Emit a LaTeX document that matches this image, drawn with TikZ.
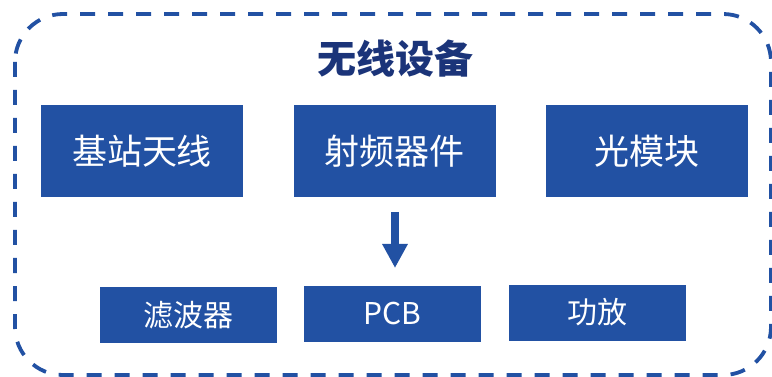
\documentclass[tikz,border=0pt]{standalone}
\usepackage{fontspec}
\setmainfont{Noto Sans CJK SC}
\usetikzlibrary{arrows.meta}
\definecolor{boxblue}{HTML}{2251A3}
\definecolor{titleblue}{HTML}{1B3479}
\tikzset{
  bigbox/.style={fill=boxblue, draw=none, minimum width=202pt, minimum height=92pt, inner sep=0pt, text=white, font=\fontsize{35}{40}\selectfont},
  smallbox/.style={fill=boxblue, draw=none, minimum width=177pt, minimum height=56pt, inner sep=0pt, text=white, font=\fontsize{30}{34}\selectfont},
  frame/.style={draw=boxblue, line width=3.8pt, dash pattern=on 15pt off 13pt, rounded corners=48pt}
}
\begin{document}
\begin{tikzpicture}[x=1pt,y=-1pt]
\useasboundingbox (0,0) rectangle (772,377);
\draw[frame] (15,14) rectangle (771,375);
\node[font=\fontsize{39}{44}\selectfont\bfseries, text=titleblue] (title) at (395,59) {无线设备};
\node[bigbox] (jz) at (142,151) {基站天线};
\node[bigbox] (sp) at (394.5,151) {射频器件};
\node[bigbox] (gm) at (646.5,151) {光模块};
\node[smallbox] (lb) at (188.5,315) {滤波器};
\node[smallbox] (pcb) at (392.5,314) {PCB};
\node[smallbox] (gf) at (597.5,312.5) {功放};
\coordinate (as) at (395,212);
\coordinate (ae) at (395,268);
\draw[boxblue, line width=8pt, -{Triangle[width=24pt,length=24pt]}] (as) -- (ae);
\end{tikzpicture}
\end{document}
